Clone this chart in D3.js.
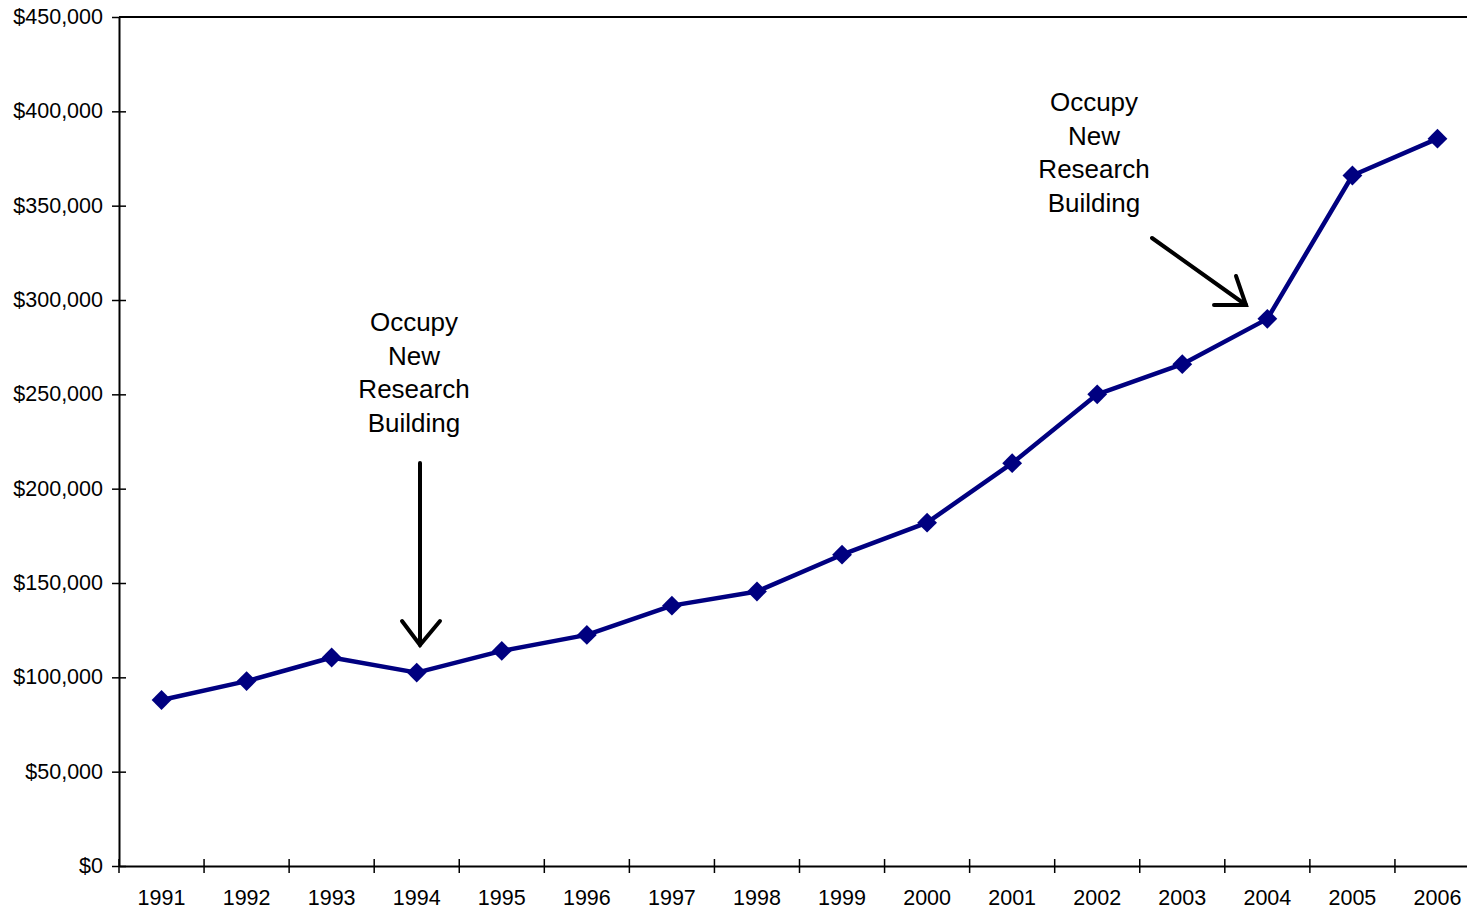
<!DOCTYPE html>
<html>
<head>
<meta charset="utf-8">
<script src="https://cdn.jsdelivr.net/npm/d3@7"></script>
<style>
  html, body { margin: 0; padding: 0; background: #fff; overflow: hidden; }
  svg { display: block; font-family: "Liberation Sans", Arial, sans-serif; }
</style>
</head>
<body>
<svg id="chart" width="1467" height="910"></svg>
<script>
// data
var years = ["1991", "1992", "1993", "1994", "1995", "1996", "1997", "1998",
    "1999", "2000", "2001", "2002", "2003", "2004", "2005", "2006"];
var values = [88000, 98000, 110500, 102500, 114000, 122500, 138000, 145500,
    165000, 182000, 213500, 250000, 266000, 290000, 366000, 385500];
var yTicks = [0, 50000, 100000, 150000, 200000, 250000, 300000, 350000, 400000, 450000];
var noteLines = ["Occupy", "New", "Research", "Building"];
var noteYears = ["1994", "2004"];

function drawChart() {
    var svg = d3.select("#chart");

    // plot area runs a bit past the right edge of the window
    var pLeft = 119, pTop = 17, pBottom = 866, pRight = 1480;

    var x = d3.scaleBand().domain(years).range([pLeft, pRight]);
    var y = d3.scaleLinear().domain([0, 450000]).range([pBottom, pTop]);
    var fmt = d3.format("$,");

    // top line of the plot frame
    svg.append("line")
        .attr("x1", pLeft).attr("x2", pRight)
        .attr("y1", pTop).attr("y2", pTop)
        .attr("stroke", "#000").attr("stroke-width", 2);

    var yAxis = svg.append("g")
        .attr("transform", "translate(" + pLeft + ",0)")
        .call(d3.axisLeft(y).tickValues(yTicks).tickFormat(fmt).tickSizeInner(7).tickSizeOuter(0).tickPadding(9));

    // cross ticks
    yAxis.selectAll(".tick line").attr("x1", 7).attr("x2", -7);
    yAxis.select(".tick:last-of-type line").attr("x1", 0);

    var xAxis = svg.append("g")
        .attr("transform", "translate(0," + pBottom + ")")
        .call(d3.axisBottom(x).tickSize(0));

    // category boundary ticks
    xAxis.selectAll(".sep")
        .data(years).enter().append("line")
        .attr("class", "sep")
        .attr("x1", function (d) { return x(d); })
        .attr("x2", function (d) { return x(d); })
        .attr("y1", -7).attr("y2", 7)
        .attr("stroke", "#000").attr("stroke-width", 1.5);

    svg.selectAll(".domain").attr("stroke", "#000").attr("stroke-width", 2);
    svg.selectAll(".tick line").attr("stroke", "#000").attr("stroke-width", 1.5);
    svg.selectAll(".tick text")
        .attr("fill", "#000")
        .style("font-size", "21.5px")
        .style("font-family", "'Liberation Sans', Arial, sans-serif");
    yAxis.selectAll(".tick text").attr("dy", "0.3em");
    xAxis.selectAll(".tick text").attr("dy", "0.71em").attr("y", 24);

    function cx(i) { return x(years[i]) + x.bandwidth() / 2; }

    // series line
    var line = d3.line()
        .x(function (d, i) { return cx(i); })
        .y(function (d) { return y(d); });

    svg.append("path")
        .datum(values)
        .attr("d", line)
        .attr("fill", "none")
        .attr("stroke", "#000080")
        .attr("stroke-width", 4.5)
        .attr("stroke-linejoin", "round");

    var diamond = d3.symbol().type(d3.symbolDiamond2).size(250);
    svg.selectAll(".marker")
        .data(values).enter().append("path")
        .attr("class", "marker")
        .attr("d", diamond)
        .attr("transform", function (d, i) { return "translate(" + cx(i) + "," + y(d) + ")"; })
        .attr("fill", "#000080");

    // annotations
    var notes = [
        { year: noteYears[0], tx: 414, ty: 331, arrow: [[420, 463], [420, 645]], head: [[402, 621], [420, 645], [440, 621]] },
        { year: noteYears[1], tx: 1094, ty: 111, arrow: [[1152, 238], [1246, 305]], head: [[1236, 276], [1246, 305], [1214, 305]] }
    ];

    notes.forEach(function (n) {
        var t = svg.append("text")
            .attr("text-anchor", "middle")
            .attr("fill", "#000")
            .style("font-size", "26px");
        noteLines.forEach(function (s, i) {
            t.append("tspan").attr("x", n.tx).attr("y", n.ty + i * 33.6).text(s);
        });
        svg.append("path")
            .attr("d", d3.line()(n.arrow))
            .attr("stroke", "#000").attr("stroke-width", 4).attr("fill", "none")
            .attr("stroke-linecap", "round");
        svg.append("path")
            .attr("d", d3.line()(n.head))
            .attr("stroke", "#000").attr("stroke-width", 4).attr("fill", "none")
            .attr("stroke-linecap", "round").attr("stroke-linejoin", "miter");
    });
}

drawChart();
</script>
</body>
</html>
